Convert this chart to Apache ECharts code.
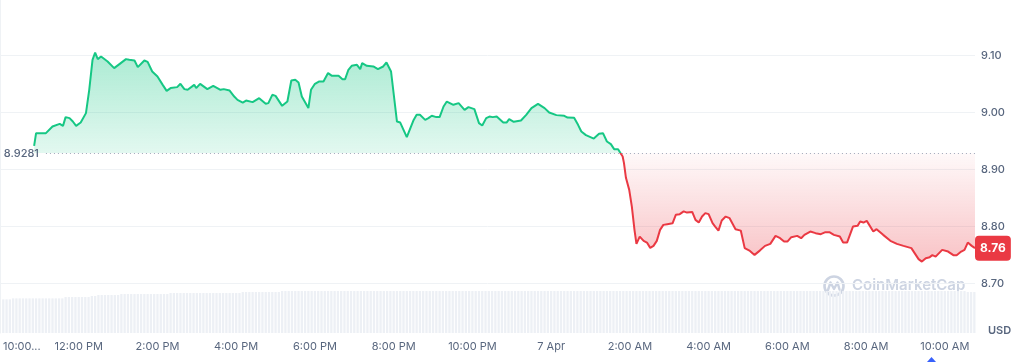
<!DOCTYPE html>
<html><head><meta charset="utf-8">
<script src="https://cdn.jsdelivr.net/npm/echarts@6/dist/echarts.min.js"></script>
<style>html,body{margin:0;padding:0;background:#fff}#c{width:1024px;height:362px}</style>
</head><body><div id="c"></div>
<script>
// ---- data ----
const times = [
'10:52','10:55','11:10','11:20','11:31','11:36','11:40','11:46','11:51','11:56',
'12:03','12:11','12:16','12:21','12:25','12:29','12:34','12:44','12:54','13:04',
'13:12','13:17','13:25','13:30','13:40','13:45','13:52','14:00','14:08','14:14',
'14:20','14:30','14:35','14:41','14:46','14:56','14:59','15:05','15:16','15:25',
'15:36','15:41','15:50','15:57','16:02','16:05','16:10','16:15','16:25','16:35',
'16:45','16:49','16:55','17:00','17:10','17:18','17:24','17:30','17:35','17:40',
'17:50','17:54','18:00','18:06','18:13','18:20','18:26','18:36','18:42','18:46',
'18:51','18:56','19:04','19:09','19:12','19:19','19:29','19:36','19:44','19:49',
'19:56','20:05','20:10','20:20','20:30','20:35','20:40','20:48','20:53','20:58',
'21:05','21:10','21:16','21:21','21:31','21:39','21:48','21:54','22:03','22:10',
'22:15','22:21','22:26','22:31','22:37','22:47','22:52','22:56','23:03','23:14',
'23:22','23:30','23:40','23:50','23:57','00:08','00:20','00:25','00:35','00:41',
'00:46','00:53','01:05','01:13','01:19','01:25','01:31','01:36','01:42','01:45',
'01:49','01:51','01:54','01:59','02:03','02:07','02:10','02:15','02:21','02:26',
'02:31','02:36','02:41','02:46','02:51','02:57','03:05','03:10','03:16','03:22',
'03:27','03:35','03:40','03:45','03:50','03:55','04:00','04:06','04:10','04:15',
'04:20','04:26','04:32','04:41','04:49','04:55','05:03','05:10','05:18','05:26',
'05:34','05:42','05:49','05:55','06:00','06:06','06:15','06:21','06:26','06:35',
'06:43','06:51','06:58','07:04','07:11','07:20','07:25','07:31','07:40','07:47',
'07:51','07:56','08:01','08:11','08:16','08:26','08:37','08:47','08:57','09:09',
'09:20','09:25','09:31','09:37','09:41','09:46','09:56','10:05','10:13','10:18',
'10:25','10:30','10:35','10:41','10:46'
];
const prices = [
8.9412,8.9635,8.9635,8.9751,8.9798,8.9763,8.9916,8.9898,8.9839,8.9763,
8.9821,8.9986,9.0395,9.0921,9.1049,9.0933,9.0979,9.0891,9.0775,9.0863,
9.0933,9.0921,9.0909,9.0793,9.0909,9.0886,9.0716,9.0628,9.0482,9.0377,
9.0425,9.0442,9.0500,9.0407,9.0395,9.0482,9.0425,9.0500,9.0407,9.0465,
9.0395,9.0407,9.0382,9.0277,9.0219,9.0249,9.0172,9.0207,9.0179,9.0249,
9.0149,9.0161,9.0307,9.0289,9.0114,9.0189,9.0558,9.0570,9.0523,9.0277,
9.0074,9.0395,9.0500,9.0540,9.0540,9.0688,9.0640,9.0640,9.0582,9.0582,
9.0746,9.0816,9.0833,9.0758,9.0863,9.0816,9.0804,9.0758,9.0804,9.0874,
9.0716,8.9839,8.9821,8.9565,8.9856,8.9956,8.9956,8.9868,8.9898,8.9939,
8.9916,8.9916,9.0102,9.0189,9.0132,9.0161,9.0044,9.0091,9.0056,8.9811,
8.9768,8.9898,8.9926,8.9916,8.9926,8.9821,8.9821,8.9881,8.9833,8.9856,
8.9956,9.0074,9.0149,9.0074,8.9996,8.9951,8.9939,8.9909,8.9904,8.9781,
8.9663,8.9600,8.9540,8.9623,8.9635,8.9488,8.9442,8.9354,8.9354,8.9330,
8.9225,8.9109,8.8851,8.8640,8.8347,8.7939,8.7693,8.7821,8.7746,8.7716,
8.7623,8.7658,8.7746,8.7939,8.8026,8.8039,8.8053,8.8202,8.8214,8.8263,
8.8242,8.8254,8.8114,8.8067,8.8172,8.8232,8.8214,8.8056,8.7996,8.7926,
8.8102,8.8172,8.8144,8.7951,8.7926,8.7618,8.7570,8.7500,8.7575,8.7658,
8.7693,8.7833,8.7793,8.7733,8.7733,8.7811,8.7833,8.7793,8.7851,8.7909,
8.7881,8.7863,8.7898,8.7898,8.7851,8.7821,8.7716,8.7716,8.7996,8.8009,
8.8084,8.8067,8.8096,8.7909,8.7951,8.7851,8.7746,8.7693,8.7658,8.7618,
8.7425,8.7382,8.7442,8.7460,8.7495,8.7470,8.7588,8.7558,8.7495,8.7495,
8.7558,8.7588,8.7716,8.7658,8.7618
];
const baseline = 8.9281;
// volume bars, one per 5 minutes from 10:05 AM (relative units)
const volumeStepMinutes = 5;
const volumes = [
10.1,10.1,10.1,10.4,10.4,10.4,10.4,10.4,10.4,10.4,10.4,10.4,10.4,10.4,10.4,10.4,10.4,10.4,10.4,
10.8,10.8,10.8,10.8,10.8,10.8,10.8,10.8,11.1,11.1,
11.4,11.4,11.4,11.4,11.4,11.4,11.4,
11.7,11.7,11.7,11.7,11.7,11.7,11.7,11.7,11.7,11.7,11.7,11.7,11.7,11.7,11.7,
12.0,12.0,12.0,12.0,12.0,12.0,12.0,12.0,12.0,12.0,12.0,12.0,12.0,12.0,12.0,12.0,12.0,12.0,12.0,12.0,12.0,12.0,
12.3,12.3,12.3,12.3,12.3,12.3,12.3,12.3,12.3,12.3,12.3,12.3,
12.6,12.6,12.6,12.6,12.6,12.6,12.6,12.6,12.6,12.6,12.6,12.6,12.6,12.6,12.6,12.6,12.6,12.6,12.6,12.6,
12.6,12.6,12.6,12.6,12.6,12.6,12.6,12.6,12.6,12.6,12.6,12.6,12.6,12.6,12.6,12.6,12.6,12.6,12.6,12.6,
12.6,12.6,12.6,12.6,12.6,12.6,12.6,12.6,12.6,12.6,12.6,12.6,12.6,12.6,12.6,12.6,12.6,12.6,12.6,12.6,
12.6,12.6,12.6,12.6,12.6,12.6,12.6,12.6,12.6,12.6,12.6,12.6,12.6,12.6,12.6,12.6,12.6,12.6,12.6,12.6,
12.6,12.6,12.6,12.6,12.6,12.6,12.6,12.6,12.6,12.6,12.6,12.6,12.6,12.6,12.6,12.6,12.6,12.6,12.6,12.6,
12.6,12.6,12.6,12.6,12.6,12.6,12.6,12.6,12.6,12.6,12.6,12.6,12.6,12.6,12.6,12.6,12.6,12.6,12.6,12.6,
12.6,12.6,12.6,12.6,12.6,12.6,12.6,12.6,12.6,12.6,12.6,12.6,12.6,12.6,12.6,12.6,12.6,12.6,12.6,12.6,
12.6,12.6,12.6,12.6,12.6,12.6,12.6,12.6,12.6,12.6,12.6,12.6,12.6,12.6,12.6,12.6,12.6,12.6,12.6,12.6,
12.6,12.6,12.6,12.6,12.6,12.6,12.6,12.6,12.6,12.6,12.6,12.6,12.6,12.6,12.6,12.6,12.6,12.6,12.6,12.6,
12.6,12.6,12.6,12.6,12.6,12.6,12.6,12.6,12.6,12.6,12.6,12.6,12.6,12.6,12.6,12.6,12.6,12.6,12.6,12.6,
12.6,12.6,12.6,12.6,12.6,12.6,12.6,12.6,12.6,
12.3,12.3,12.3
];
const xTickLabels = ['10:00...','12:00 PM','2:00 PM','4:00 PM','6:00 PM','8:00 PM','10:00 PM','7 Apr','2:00 AM','4:00 AM','6:00 AM','8:00 AM','10:00 AM'];
const yTickLabels = ['8.70','8.80','8.90','9.00','9.10'];
const yMin = 8.613, yMax = 9.197;
const axisStartClock = '10:00';

// ---- build ----
function clockToMin(s){const p=s.split(':').map(Number);return p[0]*60+p[1];}
const startMin = clockToMin(axisStartClock);
function toAxisMinutes(list){
  let day=0, prev=-1;
  return list.map(s=>{const t=clockToMin(s); if(prev>=0 && t<prev) day+=1440; prev=t; return t+day-startMin;});
}
const tAxis = toAxisMinutes(times);
const priceData = tAxis.map((t,i)=>[t, prices[i]]);
const volData = volumes.map((v,i)=>[(i+1)*volumeStepMinutes, v]);
const xMax = tAxis[tAxis.length-1];
const lastP = prices[prices.length-1];
const pMax = Math.max(...prices), pMin = Math.min(...prices);
const f = (pMax - baseline)/(pMax - pMin);
const G='#16c784', R='#ea3943';
const lineGrad = new echarts.graphic.LinearGradient(0,0,0,1,[
  {offset:0,color:G},{offset:f,color:G},{offset:f,color:R},{offset:1,color:R}]);
const areaGrad = new echarts.graphic.LinearGradient(0,0,0,1,[
  {offset:0,color:'rgba(22,199,132,0.36)'},{offset:f,color:'rgba(22,199,132,0.12)'},
  {offset:f,color:'rgba(234,57,67,0.03)'},{offset:1,color:'rgba(234,57,67,0.30)'}]);

const FONT='Inter';
const chart = echarts.init(document.getElementById('c'), null, {renderer:'canvas'});
chart.setOption({
  animation:false,
  grid:{left:-3, right:49, top:0, bottom:29, containLabel:false},
  xAxis:{type:'value', min:0, max:xMax, interval:120,
    axisLine:{show:false}, axisTick:{show:false}, splitLine:{show:false},
    axisLabel:{color:'#58667e', fontSize:11, fontFamily:FONT, margin:8, showMaxLabel:false, alignMinLabel:'left',
      formatter:(v)=>{const i=Math.round(v/120); if(Math.abs(v-i*120)>0.01) return ''; if(i===0) return '{f|'+xTickLabels[0]+'}'; return xTickLabels[i]||'';},
      rich:{f:{padding:[0,0,0,3], color:'#58667e', fontSize:11, fontFamily:FONT}}}
  },
  yAxis:[{type:'value', position:'right', min:yMin, max:yMax,
    axisLine:{show:true, lineStyle:{color:'#eff2f5', width:1}}, axisTick:{show:false},
    axisLabel:{color:'#58667e', fontSize:11, fontFamily:FONT, fontWeight:500, margin:6, showMinLabel:false, showMaxLabel:false,
      formatter:(v)=>{const s=v.toFixed(2); return yTickLabels.indexOf(s)>=0? s : '';}},
    splitLine:{show:true, showMinLine:false, showMaxLine:false, lineStyle:{color:'#eff2f5', width:1}}
  },{type:'value', min:0, max:100, show:false, splitLine:{show:false}}],
  series:[
    {type:'bar', name:'Volume', data:volData, xAxisIndex:0, yAxisIndex:1, barWidth:2.3, silent:true, z:1,
      itemStyle:{color:'#edf0f5'}, emphasis:{disabled:true}},
    {type:'line', name:'Price', data:priceData, showSymbol:false, symbol:'none', clip:false, z:3, silent:true,
      lineStyle:{width:2, color:lineGrad}, areaStyle:{origin:baseline, opacity:1, color:areaGrad},
      emphasis:{disabled:true},
      markLine:{symbol:['none','none'], silent:true, animation:false, z:5,
        data:[
          [{coord:[70, baseline], lineStyle:{color:'#a1a9ba', type:[1,3], width:1},
            label:{show:true, position:'start', distance:7, formatter:String(baseline), color:'#58667e', fontSize:11, fontFamily:FONT, fontWeight:500}},
           {coord:[xMax, baseline]}],
          [{coord:[tAxis[0], lastP], lineStyle:{color:'rgba(0,0,0,0)', width:1, opacity:1},
            label:{show:true, position:'end', distance:0, opacity:1, formatter:lastP.toFixed(2), color:'#fff', fontSize:12, fontWeight:'bold', fontFamily:FONT,
              backgroundColor:R, borderRadius:4, padding:[5,5,5,5], lineHeight:15}},
           {coord:[xMax, lastP]}]
        ]}
    }
  ],
  graphic:[
    {type:'text', left:988, top:325, silent:true, style:{text:'USD', fill:'#58667e', font:'600 11px Inter'}},
    {type:'circle', silent:true, shape:{cx:834, cy:286, r:9.5}, style:{fill:'none', stroke:'#cdd4e2', lineWidth:2.6}},
    {type:'polyline', silent:true, shape:{points:[[828,290],[830.5,282.5],[834,289],[837.5,282.5],[839.5,289.5]]}, style:{fill:'none', stroke:'#cdd4e2', lineWidth:2.4, lineJoin:'round', lineCap:'round'}},
    {type:'text', left:852, top:278, silent:true, style:{text:'CoinMarketCap', fill:'#cdd4e2', font:'600 15px Inter'}},
    {type:'polygon', silent:true, shape:{points:[[927,362],[931.5,357],[936,362]]}, style:{fill:'#3861fb'}}
  ]
});
</script></body></html>
